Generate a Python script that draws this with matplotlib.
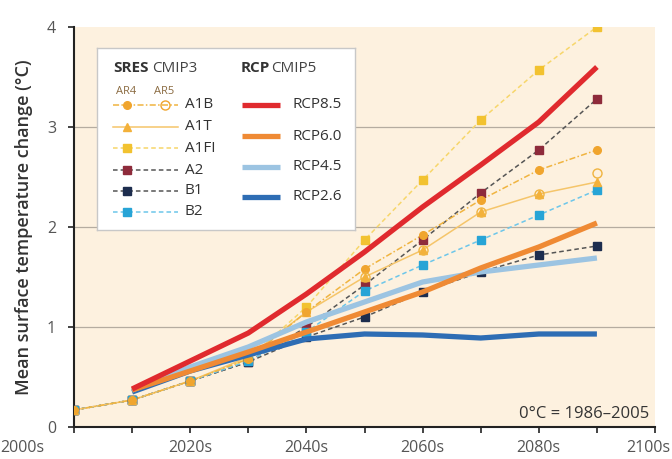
import matplotlib
matplotlib.use('Agg')
import matplotlib.pyplot as plt
import matplotlib.transforms as mtransforms

plt.rcParams['font.family'] = ['Open Sans', 'DejaVu Sans']

# decades
years = [2000, 2010, 2020, 2030, 2040, 2050, 2060, 2070, 2080, 2090]
rcp_years = [2010, 2020, 2030, 2040, 2050, 2060, 2070, 2080, 2090]

# SRES CMIP3 (AR4)
a1b = [0.17, 0.27, 0.46, 0.68, 1.15, 1.58, 1.92, 2.27, 2.57, 2.77]
a1b_ar5 = [0.17, 0.27, 0.46, 0.67, 1.08, 1.50, 1.77, 2.15, 2.33, 2.54]
a1t = [0.17, 0.27, 0.46, 0.70, 1.15, 1.50, 1.77, 2.15, 2.33, 2.45]
a1fi = [0.17, 0.27, 0.46, 0.68, 1.20, 1.87, 2.47, 3.07, 3.57, 4.00]
a2 = [0.17, 0.27, 0.46, 0.65, 1.00, 1.42, 1.87, 2.34, 2.77, 3.28]
b1 = [0.17, 0.27, 0.46, 0.65, 0.90, 1.10, 1.35, 1.55, 1.72, 1.81]
b2 = [0.17, 0.27, 0.46, 0.66, 0.95, 1.36, 1.62, 1.87, 2.12, 2.37]

# RCP CMIP5
rcp85 = [0.38, 0.66, 0.94, 1.33, 1.75, 2.20, 2.62, 3.05, 3.60]
rcp60 = [0.37, 0.56, 0.75, 0.95, 1.15, 1.35, 1.59, 1.80, 2.04]
rcp45 = [0.37, 0.60, 0.80, 1.05, 1.25, 1.45, 1.55, 1.62, 1.69]
rcp26 = [0.35, 0.56, 0.72, 0.88, 0.93, 0.92, 0.89, 0.93, 0.93]

xtick_labels = ['2000s', '2020s', '2040s', '2060s', '2080s', '2100s']

bg = '#fdf1df'
grey_text = '#555555'

fig = plt.figure(figsize=(6.72, 4.59), dpi=100)
ax = fig.add_axes([74 / 672, 32 / 459, 581 / 672, 400 / 459])
ax.set_facecolor(bg)
ax.set_xlim(2000, 2100)
ax.set_ylim(0, 4)

for g in [1, 2, 3]:
    ax.axhline(g, color='#b5aca0', lw=0.9, zorder=1)

# SRES lines
sres = [
    (a1fi, '#f2c230', '#f7d66a', (0, (3, 2)), 's'),
    (a2, '#8e2b3b', '#555555', (0, (3, 2)), 's'),
    (b1, '#1d2d4e', '#555555', (0, (3, 2)), 's'),
    (b2, '#27a4d6', '#6cc6ea', (0, (3, 2)), 's'),
    (a1t, '#f3b13a', '#f5c56a', '-', '^'),
    (a1b, '#f0a52e', '#f0b440', (0, (4, 1.5, 1, 1.5)), 'o'),
]
for vals, mcol, lcol, ls, mk in sres:
    ax.plot(years, vals, color=lcol, lw=1.1, ls=ls, zorder=3)
    ax.plot(years, vals, ls='none', marker=mk, ms=5.5, color=mcol,
            markeredgecolor=mcol, zorder=4)
ax.plot(years[5:], a1b_ar5[5:], ls='none', marker='o', ms=6.5,
        markerfacecolor='none', markeredgecolor='#f0b440', mew=1.0, zorder=4)

# RCP lines
rcps = [
    (rcp85, '#e02a2e'),
    (rcp60, '#ef8a34'),
    (rcp45, '#9cc4e2'),
    (rcp26, '#2e6db4'),
]
for vals, col in rcps[::-1]:
    ax.plot(rcp_years, vals, color=col, lw=3.8, solid_capstyle='butt', zorder=5)

for s in ['top', 'right']:
    ax.spines[s].set_visible(False)
for s in ['left', 'bottom']:
    ax.spines[s].set_color('#222222')
    ax.spines[s].set_linewidth(1.5)

ax.set_xticks(range(2000, 2101, 20))
ax.set_xticks(range(2010, 2100, 20), minor=True)
ax.set_xticklabels(xtick_labels)
ax.set_yticks([0, 1, 2, 3, 4])
ax.tick_params(axis='both', which='both', direction='out', length=4,
               width=1.2, color='#222222', labelcolor=grey_text, labelsize=11.5)
ax.tick_params(axis='x', which='both', pad=5)
ax.tick_params(axis='y', which='both', pad=9)
labels = ax.get_xticklabels()
first = labels[0]
first.set_transform(first.get_transform() +
                    mtransforms.ScaledTranslation(-0.3, 0, fig.dpi_scale_trans))
first.set_ha('right')
last = labels[-1]
last.set_transform(last.get_transform() +
                   mtransforms.ScaledTranslation(-0.07, 0, fig.dpi_scale_trans))

ax.set_ylabel('Mean surface temperature change (°C)', fontsize=13,
              color='#333333', fontweight='semibold', labelpad=10)
ax.text(0.99, 0.012, '0°C = 1986–2005', transform=ax.transAxes, ha='right',
        va='bottom', fontsize=12, color='#333333')

# legend box drawn in pixel coordinates
lg = fig.add_axes([97 / 672, (459 - 230) / 459, 258 / 672, 182 / 459])
lg.set_xlim(97, 355)
lg.set_ylim(230, 48)
lg.set_xticks([])
lg.set_yticks([])
lg.set_facecolor('white')
for s in lg.spines.values():
    s.set_color('#c8c8c8')
    s.set_linewidth(1.0)

lg.text(113, 68, 'SRES', fontsize=11, fontweight='bold', color='#333333', va='center')
lg.text(152, 68, 'CMIP3', fontsize=11, color='#444444', va='center')
lg.text(241, 68, 'RCP', fontsize=11, fontweight='bold', color='#333333', va='center')
lg.text(271, 68, 'CMIP5', fontsize=11, color='#444444', va='center')
lg.text(126, 91, 'AR4', fontsize=8, color='#8a6a40', ha='center', va='center')
lg.text(164, 91, 'AR5', fontsize=8, color='#8a6a40', ha='center', va='center')

sres_names = ['A1B', 'A1T', 'A1FI', 'A2', 'B1', 'B2']
sres_rows = [105, 127, 148, 170, 191, 212]
sres_leg = [sres[5], sres[4], sres[0], sres[1], sres[2], sres[3]]
for name, yy, (vals, mcol, lcol, ls, mk) in zip(sres_names, sres_rows, sres_leg):
    lg.plot([113, 178], [yy, yy], color=lcol, lw=1.1, ls=ls)
    lg.plot([127], [yy], ls='none', marker=mk, ms=5.5, color=mcol)
    if name == 'A1B':
        lg.plot([165], [yy], ls='none', marker='o', ms=6.5,
                markerfacecolor='none', markeredgecolor=mcol)
    lg.text(185, yy, name, fontsize=11, color='#333333', va='center')

rcp_names = ['RCP8.5', 'RCP6.0', 'RCP4.5', 'RCP2.6']
rcp_rows = [105, 136, 167, 197]
for name, yy, (vals, col) in zip(rcp_names, rcp_rows, rcps):
    lg.plot([242, 280], [yy, yy], color=col, lw=3.8, solid_capstyle='butt')
    lg.text(292, yy, name, fontsize=11, color='#333333', va='center')

fig.savefig('out.png', dpi=100, facecolor='white')
